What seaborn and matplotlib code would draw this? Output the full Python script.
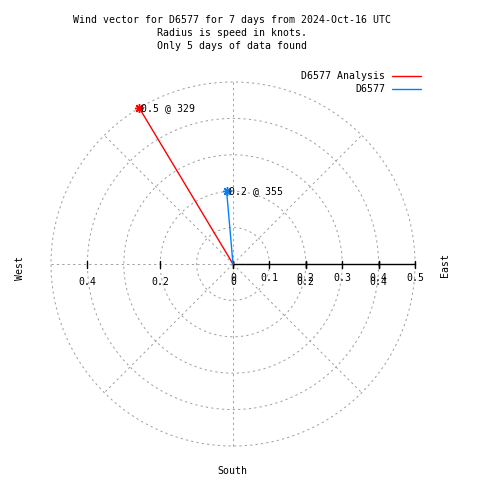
import numpy as np
import pandas as pd
import matplotlib
matplotlib.use("Agg")
import matplotlib.pyplot as plt
import seaborn as sns

# ---- data ----
series_names = ["D6577 Analysis", "D6577"]
speeds = [0.5, 0.2]           # knots
directions = [329, 355]       # degrees, compass
series_colors = ["#ff0000", "#0080ff"]
ring_radii = [0.1, 0.2, 0.3, 0.4, 0.5]
spoke_angles = [45, 135, 225, 315]
r_ticks = [0.0, 0.1, 0.2, 0.3, 0.4, 0.5]
x_ticks = [-0.4, -0.2, 0.0, 0.2, 0.4]
title_lines = ["Wind vector for D6577 for 7 days from 2024-Oct-16 UTC",
               "Radius is speed in knots.",
               "Only 5 days of data found"]

sns.set_style("white")
plt.rcParams["font.family"] = ["DejaVu Sans Mono"]
plt.rcParams["text.color"] = "black"

FS = 7.15
W = H = 480
CX, CY, S = 233, 264, 364.0   # centre pixel, pixels per knot

fig = plt.figure(figsize=(4.8, 4.8), dpi=100)
ax = fig.add_axes([0, 0, 1, 1])
ax.set_xlim((0 - CX) / S, (W - CX) / S)
ax.set_ylim((CY - H) / S, (CY - 0) / S)
ax.set_axis_off()

def px(x, y):
    return ((x - CX) / S, (CY - y) / S)

grid_kw = dict(color="#a0a0a0", lw=0.72, ls=(0, (2.2, 3.2)), zorder=1)
rmax = max(ring_radii)
th = np.linspace(0, 2 * np.pi, 400)
for r in ring_radii:
    ax.plot(r * np.cos(th), r * np.sin(th), **grid_kw)
for a in spoke_angles:
    rad = np.deg2rad(a)
    ax.plot([0, rmax * np.sin(rad)], [0, rmax * np.cos(rad)], **grid_kw)
ax.plot([0, 0], [-rmax, rmax], **grid_kw)
ax.plot([-rmax, 0], [0, 0], **grid_kw)

# axis line and ticks (labels overlap as in the original)
tk = 3.5 / S
ax.plot([0, max(r_ticks)], [0, 0], color="black", lw=1.0, zorder=3)
for r in r_ticks:
    ax.plot([r, r], [-tk, tk], color="black", lw=1.0, zorder=3)
    ax.text(r, px(0, 278)[1], f"{r:g}", ha="center", va="center", fontsize=FS, zorder=4)
for x in x_ticks:
    ax.plot([x, x], [-tk, tk], color="black", lw=1.0, zorder=3)
    ax.text(x, px(0, 282)[1], f"{abs(x):g}", ha="center", va="center", fontsize=FS, zorder=4)

# vectors
rows = []
for name, sp, d in zip(series_names, speeds, directions):
    rad = np.deg2rad(d)
    rows.append({"series": name, "x": 0.0, "y": 0.0, "order": 0})
    rows.append({"series": name, "x": sp * np.sin(rad), "y": sp * np.cos(rad), "order": 1})
df = pd.DataFrame(rows)
pal = dict(zip(series_names, series_colors))
sns.lineplot(data=df, x="x", y="y", hue="series", units="series", estimator=None,
             sort=False, palette=pal, lw=1.0, legend=False, ax=ax, zorder=5)
ends = df[df["order"] == 1]
for _, row in ends.iterrows():
    ax.plot(row["x"], row["y"], marker=(8, 2, 0), ms=6.5, mew=1.0,
            color=pal[row["series"]], zorder=6)
for name, sp, d in zip(series_names, speeds, directions):
    rad = np.deg2rad(d)
    ax.annotate(f"{sp:.1f} @ {d}", (sp * np.sin(rad), sp * np.cos(rad)),
                xytext=(2, 0), textcoords="offset pixels", ha="left", va="center",
                fontsize=FS, zorder=7)

# title
for i, line in enumerate(title_lines):
    ax.text(*px(232, 20 + 13 * i), line, ha="center", va="center", fontsize=FS)

# legend
for i, (name, c) in enumerate(zip(series_names, series_colors)):
    y = 76 + 13 * i
    ax.text(*px(385, y), name, ha="right", va="center", fontsize=FS)
    x0, y0 = px(392, y)
    x1, _ = px(421, y)
    ax.plot([x0, x1], [y0, y0], color=c, lw=1.0)

# compass labels
ax.text(*px(20, 268), "West", rotation=90, ha="center", va="center", fontsize=FS)
ax.text(*px(445, 265), "East", rotation=90, ha="center", va="center", fontsize=FS)
ax.text(*px(232, 471), "South", ha="center", va="center", fontsize=FS)

fig.savefig("out.png", dpi=100, facecolor="white")
